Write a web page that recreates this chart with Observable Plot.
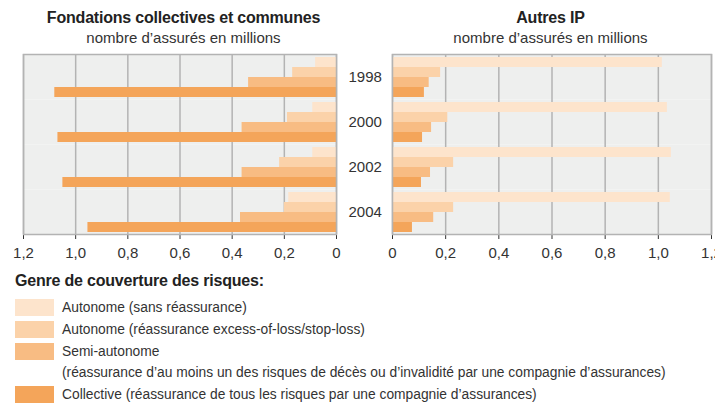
<!DOCTYPE html>
<html>
<head>
<meta charset="utf-8">
<script src="https://cdn.jsdelivr.net/npm/d3@7"></script>
<script src="https://cdn.jsdelivr.net/npm/@observablehq/plot@0.6"></script>
<style>
  html, body { margin: 0; padding: 0; background: #fff; }
  body { width: 715px; height: 403px; position: relative; overflow: hidden;
         font-family: "Liberation Sans", Arial, sans-serif; color: #222; }
  .abs { position: absolute; }
  .title { font-weight: bold; font-size: 16px; text-align: center; line-height: 20px; letter-spacing: -0.2px; }
  .sub { font-size: 15px; text-align: center; line-height: 18px; color: #333; }
  .leg-title { font-weight: bold; font-size: 16px; line-height: 20px; letter-spacing: -0.2px; }
  .leg-text { font-size: 13.8px; line-height: 21px; color: #333; white-space: nowrap; }
  .sw { width: 39px; height: 17px; }
  svg { overflow: visible; }
</style>
</head>
<body>
<div id="left" class="abs" style="left:0;top:0"></div>
<div id="right" class="abs" style="left:382px;top:0"></div>
<div class="abs title" style="left:27px;width:313px;top:8px">Fondations collectives et communes</div>
<div class="abs sub" style="left:27px;width:313px;top:29px">nombre d’assurés en millions</div>
<div class="abs title" style="left:391px;width:319px;top:8px">Autres IP</div>
<div class="abs sub" style="left:391px;width:319px;top:29px">nombre d’assurés en millions</div>
<div id="legend" class="abs" style="left:15px;top:271px"></div>
<script>
// ---- data ----
const years = ["1998", "2000", "2002", "2004"];
const types = [
  "Autonome (sans réassurance)",
  "Autonome (réassurance excess-of-loss/stop-loss)",
  "Semi-autonome",
  "Collective (réassurance de tous les risques par une compagnie d’assurances)"
];
const typeNotes = ["", "", "(réassurance d’au moins un des risques de décès ou d’invalidité par une compagnie d’assurances)", ""];
const colors = ["#fde4cc", "#fbd2a9", "#f8bc83", "#f4a55a"];
const xTicks = [0, 0.2, 0.4, 0.6, 0.8, 1.0, 1.2];

// Fondations collectives et communes (millions)
const fcAutonome = [0.080, 0.091, 0.091, 0.183];
const fcExcess   = [0.168, 0.188, 0.218, 0.200];
const fcSemi     = [0.337, 0.362, 0.362, 0.368];
const fcCollect  = [1.080, 1.068, 1.049, 0.953];
// Autres IP (millions)
const ipAutonome = [1.015, 1.034, 1.049, 1.045];
const ipExcess   = [0.181, 0.208, 0.230, 0.230];
const ipSemi     = [0.138, 0.147, 0.143, 0.155];
const ipCollect  = [0.120, 0.113, 0.109, 0.075];

function table(series) {
  const rows = [];
  years.forEach((yr, i) => series.forEach((s, k) => rows.push({year: yr, type: types[k], value: s[i]})));
  return rows;
}
const fcData = table([fcAutonome, fcExcess, fcSemi, fcCollect]);
const ipData = table([ipAutonome, ipExcess, ipSemi, ipCollect]);

const fmt = d => d === 0 ? "0" : d.toFixed(1).replace(".", ",");
const font = '"Liberation Sans", Arial, sans-serif';

function panel(data, opts) {
  return Plot.plot({
    width: opts.width,
    height: 268,
    marginTop: 52,
    marginBottom: 33,
    marginLeft: opts.marginLeft,
    marginRight: opts.marginRight,
    style: {fontFamily: font, fontSize: "15px", color: "#333", background: "transparent", overflow: "visible"},
    x: {domain: [0, 1.2], reverse: opts.reverse, ticks: xTicks, tickFormat: fmt, tickSize: 5, tickPadding: 8, label: null, line: false},
    y: {domain: types, axis: null, paddingInner: 0, paddingOuter: 0.23},
    fy: {domain: years, padding: 0, axis: opts.fyAxis, tickSize: 0, tickPadding: 12, label: null},
    color: {domain: types, range: colors},
    marks: [
      Plot.frame({fill: "#eeefee", stroke: "none"}),
      Plot.ruleX(xTicks, {stroke: "#b3b3b3", strokeWidth: 1.5}),
      Plot.barX(data, {fy: "year", y: "type", x: "value", fill: "type"}),
      Plot.frame({stroke: "#b3b3b3", strokeWidth: 1.5, facet: "super"})
    ]
  });
}

document.getElementById("left").append(panel(fcData, {width: 382, marginLeft: 23, marginRight: 46, reverse: true, fyAxis: "right"}));
document.getElementById("right").append(panel(ipData, {width: 333, marginLeft: 10, marginRight: 4, reverse: false, fyAxis: null}));

// legend
const leg = document.getElementById("legend");
leg.innerHTML = '<div class="leg-title">Genre de couverture des risques:</div>';
types.forEach((t, k) => {
  const row = document.createElement("div");
  row.style.cssText = "display:flex;align-items:flex-start;margin-top:" + (k === 0 ? 6 : 1) + "px";
  row.innerHTML = '<div class="sw" style="background:' + colors[k] + ';margin-top:2px"></div>' +
    '<div class="leg-text" style="margin-left:8px">' + t + (typeNotes[k] ? '<br>' + typeNotes[k] : '') + '</div>';
  leg.append(row);
});
</script>
</body>
</html>
